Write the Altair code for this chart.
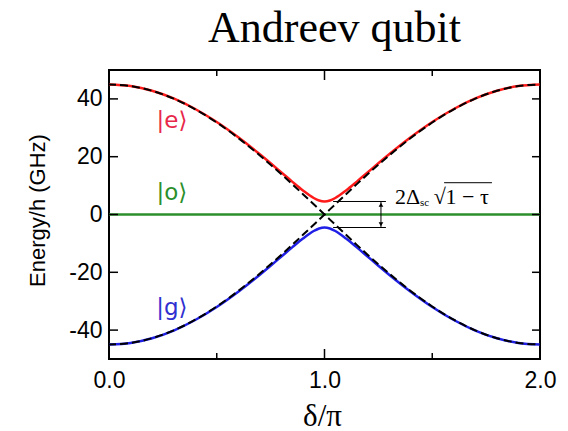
import altair as alt
import pandas as pd

# Phase difference across the junction, in units of pi
delta = [0.0, 0.1, 0.2, 0.3, 0.4, 0.5, 0.6, 0.7, 0.75, 0.8, 0.85, 0.9, 0.95, 0.975, 1.0,
         1.025, 1.05, 1.1, 1.15, 1.2, 1.25, 1.3, 1.4, 1.5, 1.6, 1.7, 1.8, 1.9, 2.0]

# Andreev levels (GHz): excited |e> and ground |g>, gap opened at delta = pi
e_level = [45.0, 44.45, 42.82, 40.15, 36.50, 31.98, 26.70, 20.82, 17.72, 14.55, 11.38, 8.33, 5.71, 4.83, 4.50,
           4.83, 5.71, 8.33, 11.38, 14.55, 17.72, 20.82, 26.70, 31.98, 36.50, 40.15, 42.82, 44.45, 45.0]
g_level = [-45.0, -44.45, -42.82, -40.15, -36.50, -31.98, -26.70, -20.82, -17.72, -14.55, -11.38, -8.33, -5.71, -4.83, -4.50,
           -4.83, -5.71, -8.33, -11.38, -14.55, -17.72, -20.82, -26.70, -31.98, -36.50, -40.15, -42.82, -44.45, -45.0]

# Perfect-transmission levels (dashed), crossing at delta = pi
cross_a = [45.0, 44.45, 42.80, 40.10, 36.41, 31.82, 26.45, 20.43, 17.22, 13.91, 10.51, 7.04, 3.53, 1.77, 0.0,
           -1.77, -3.53, -7.04, -10.51, -13.91, -17.22, -20.43, -26.45, -31.82, -36.41, -40.10, -42.80, -44.45, -45.0]
cross_b = [-45.0, -44.45, -42.80, -40.10, -36.41, -31.82, -26.45, -20.43, -17.22, -13.91, -10.51, -7.04, -3.53, -1.77, 0.0,
           1.77, 3.53, 7.04, 10.51, 13.91, 17.22, 20.43, 26.45, 31.82, 36.41, 40.10, 42.80, 44.45, 45.0]

# Odd state |o>, flat at zero
o_delta = [0.0, 2.0]
o_level = [0.0, 0.0]

# State labels
ket_text = ["|e⟩", "|o⟩", "|g⟩"]
ket_delta = [0.292, 0.292, 0.292]
ket_energy = [32.5, 7.5, -32.5]
ket_color = ["#e8284a", "#2b8f2b", "#3030d0"]

# Gap annotation
gap_energy = [4.5, -4.5]
gap_start = [1.04, 1.04]
gap_end = [1.285, 1.285]
arrow_delta = 1.262
formula_text = ["2Δ", "sc", "√", "1 − τ"]
formula_delta = [1.327, 1.443, 1.507, 1.562]
formula_energy = [3.6, 2.9, 3.6, 3.6]
formula_size = [22, 11, 22, 22]
overline_delta = [1.555, 1.777]
overline_energy = 11.0

y_tick_values = [-40, -20, 0, 20, 40]
x_major_ticks = [1.0]
x_minor_ticks = [0.5, 1.5]

xs = alt.Scale(domain=[0, 2], nice=False, zero=False)
ys = alt.Scale(domain=[-50, 50], nice=False, zero=False)

x_axis = alt.Axis(
    values=[0, 1, 2], format=".1f", ticks=False, tickSize=0, domain=False, grid=False,
    labelFont="Liberation Sans", labelFontSize=23, labelColor="black", labelPadding=10,
    labelFlush=False, titleFont="Liberation Serif", titleFontSize=31, titleFontWeight="normal",
    titleColor="black", titleX=213, titleY=66, titleAlign="center", titleBaseline="alphabetic",
)
y_axis = alt.Axis(
    values=y_tick_values, ticks=False, tickSize=0, domain=False, grid=False,
    labelExpr="datum.value < 0 ? '-' + abs(datum.value) : '' + datum.value",
    labelFont="Liberation Sans", labelFontSize=23, labelColor="black", labelPadding=7,
    labelFlush=False, titleFont="Liberation Sans", titleFontSize=22, titleFontWeight="normal",
    titleColor="black", titleX=-60, titleY=140, titleAngle=-90, titleAlign="center",
    titleBaseline="bottom",
)


def X(field="delta"):
    return alt.X(f"{field}:Q", scale=xs, axis=x_axis, title="δ/π")


def Y(field="energy"):
    return alt.Y(f"{field}:Q", scale=ys, axis=y_axis, title="Energy/h (GHz)")


levels = pd.DataFrame({"delta": delta, "e": e_level, "g": g_level, "a": cross_a, "b": cross_b})


def level_line(col, color, width, dash=None):
    df = levels[["delta", col]].rename(columns={col: "energy"})
    kw = dict(color=color, strokeWidth=width, interpolate="monotone")
    if dash:
        kw["strokeDash"] = dash
        kw["strokeDashOffset"] = 1
    return alt.Chart(df).mark_line(**kw).encode(x=X(), y=Y())


o_line = alt.Chart(pd.DataFrame({"delta": o_delta, "energy": o_level})).mark_line(
    color="#2b8f2b", strokeWidth=2.5).encode(x=X(), y=Y())
e_line = level_line("e", "#ff1a1a", 2.5)
g_line = level_line("g", "#1f1fe6", 2.5)
a_line = level_line("a", "black", 2, [8, 4])
b_line = level_line("b", "black", 2, [8, 4])

kets = alt.Chart(pd.DataFrame({"delta": ket_delta, "energy": ket_energy, "label": ket_text,
                               "col": ket_color})).mark_text(
    font="DejaVu Sans", fontSize=23, align="center", baseline="middle").encode(
    x=X(), y=Y(), text="label:N", color=alt.Color("col:N", scale=None))

gap_lines = alt.Chart(pd.DataFrame({"delta": gap_start, "delta_end": gap_end, "energy": gap_energy})).mark_rule(
    color="black", strokeWidth=1).encode(x=X(), x2="delta_end:Q", y=Y())

arrow_shaft = alt.Chart(pd.DataFrame({"delta": [arrow_delta], "energy": [gap_energy[0]],
                                      "energy_end": [gap_energy[1]]})).mark_rule(
    color="black", strokeWidth=1).encode(x=X(), y=Y(), y2="energy_end:Q")
arrow_heads = alt.Chart(pd.DataFrame({"delta": [arrow_delta, arrow_delta], "energy": [3.4, -3.4],
                                      "shape": ["triangle-up", "triangle-down"]})).mark_point(
    filled=True, color="black", size=22, opacity=1).encode(
    x=X(), y=Y(), shape=alt.Shape("shape:N", scale=None))

formula = alt.Chart(pd.DataFrame({"delta": formula_delta, "energy": formula_energy, "t": formula_text,
                                  "fs": formula_size})).mark_text(
    font="Liberation Serif", align="left", baseline="alphabetic", color="black").encode(
    x=X(), y=Y(), text="t:N", size=alt.Size("fs:Q", scale=None))
overline = alt.Chart(pd.DataFrame({"delta": [overline_delta[0]], "delta_end": [overline_delta[1]],
                                   "energy": [overline_energy]})).mark_rule(
    color="black", strokeWidth=1).encode(x=X(), x2="delta_end:Q", y=Y())

# Inward-pointing ticks on all four sides
ytk = pd.DataFrame({"energy": y_tick_values})
left_ticks = alt.Chart(ytk).mark_rule(color="black", strokeWidth=1.5).encode(
    y=Y(), x=alt.value(0), x2=alt.value(9))
right_ticks = alt.Chart(ytk).mark_rule(color="black", strokeWidth=1.5).encode(
    y=Y(), x=alt.value(431), x2=alt.value(423))
major = pd.DataFrame({"delta": x_major_ticks})
minor = pd.DataFrame({"delta": x_minor_ticks})
bottom_major = alt.Chart(major).mark_rule(color="black", strokeWidth=1.5).encode(
    x=X(), y=alt.value(289), y2=alt.value(279))
bottom_minor = alt.Chart(minor).mark_rule(color="black", strokeWidth=1.5).encode(
    x=X(), y=alt.value(289), y2=alt.value(283))
top_major = alt.Chart(major).mark_rule(color="black", strokeWidth=1.5).encode(
    x=X(), y=alt.value(0), y2=alt.value(10))
top_minor = alt.Chart(minor).mark_rule(color="black", strokeWidth=1.5).encode(
    x=X(), y=alt.value(0), y2=alt.value(6))

chart = alt.layer(
    o_line, e_line, g_line, a_line, b_line, kets, gap_lines, arrow_shaft, arrow_heads,
    formula, overline, left_ticks, right_ticks, bottom_major, bottom_minor, top_major, top_minor,
).properties(
    width=431, height=289,
    autosize=alt.AutoSizeParams(type="none"),
    padding={"left": 109, "top": 70, "right": 28, "bottom": 72},
    background="white",
    title=alt.TitleParams(
        text="Andreev qubit", font="Liberation Serif", fontSize=44, fontWeight="normal",
        color="black", anchor="middle", dx=10, dy=36, offset=19, baseline="alphabetic",
    ),
).configure_view(stroke="black", strokeWidth=2)

chart.save("out.html", embed_options={"renderer": "svg", "actions": False})
